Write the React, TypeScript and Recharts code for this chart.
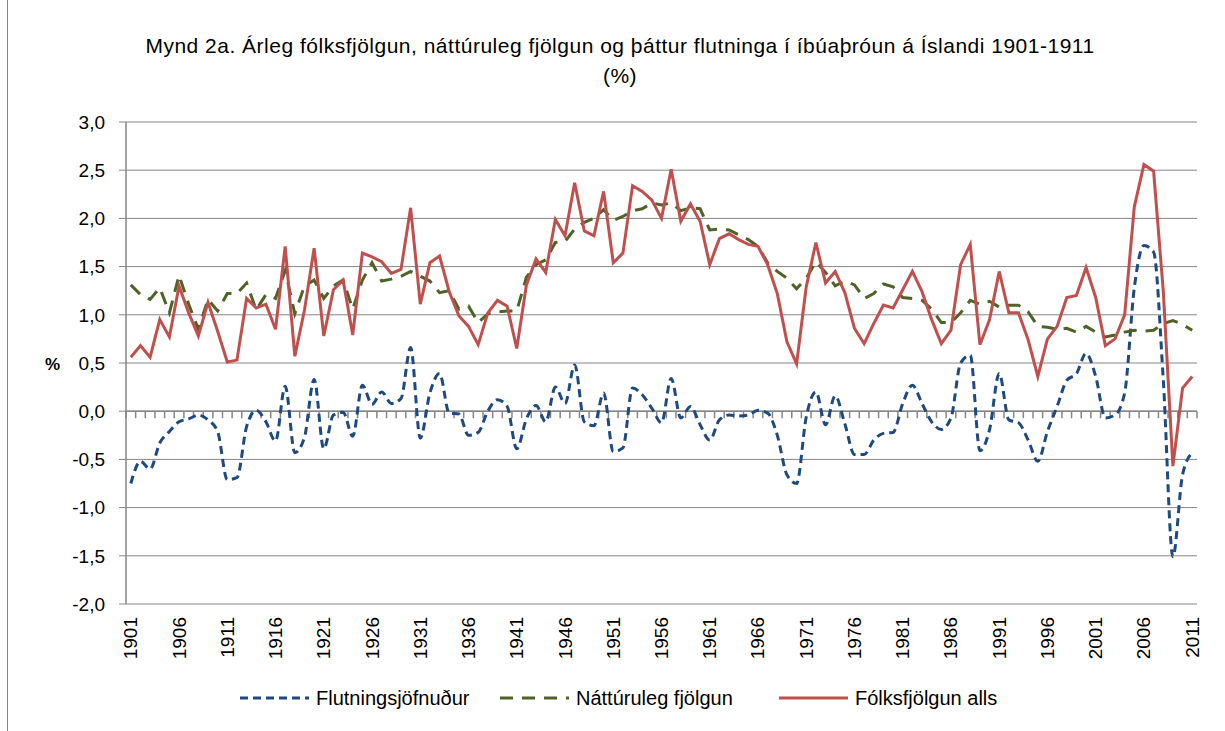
import { CartesianGrid, Line, LineChart, ReferenceLine, XAxis, YAxis } from "recharts";

// ár 1901-2011
const years = Array.from({ length: 111 }, (_, i) => 1901 + i);

const flutningsjofnudur = [
  -0.75, -0.52, -0.6, -0.33, -0.21, -0.11, -0.08, -0.04, -0.09, -0.21,
  -0.71, -0.69, -0.16, 0.01, -0.11, -0.31, 0.26, -0.43, -0.27, 0.33,
  -0.39, -0.04, -0.01, -0.26, 0.27, 0.07, 0.2, 0.08, 0.13, 0.66,
  -0.28, 0.19, 0.39, -0.02, -0.03, -0.25, -0.22, 0.0, 0.12, 0.05,
  -0.39, -0.08, 0.06, -0.11, 0.25, 0.08, 0.48, -0.11, -0.15, 0.19,
  -0.42, -0.38, 0.24, 0.17, 0.03, -0.12, 0.34, -0.07, 0.05, -0.14,
  -0.3, -0.09, -0.04, -0.05, -0.04, 0.01, -0.02, -0.25, -0.66, -0.75,
  -0.06, 0.2, -0.14, 0.16, -0.13, -0.45, -0.45, -0.3, -0.23, -0.22,
  0.08, 0.27, 0.08, -0.11, -0.19, -0.07, 0.5, 0.58, -0.41, -0.19,
  0.39, -0.09, -0.12, -0.3, -0.52, -0.21, 0.05, 0.32, 0.39, 0.6,
  0.36, -0.07, -0.04, 0.19, 1.28, 1.72, 1.65, 0.33, -1.51, -0.66,
  -0.43,
];

const natturulegFjolgun = [
  1.31, 1.21, 1.16, 1.28, 1.02, 1.41, 1.11, 0.85, 1.16, 1.04,
  1.22, 1.22, 1.33, 1.05, 1.21, 1.17, 1.46, 1.01, 1.3, 1.36,
  1.17, 1.3, 1.36, 1.06, 1.36, 1.54, 1.35, 1.37, 1.4, 1.45,
  1.4, 1.35, 1.23, 1.25, 1.06, 1.09, 0.92, 1.01, 1.03, 1.04,
  1.04, 1.39, 1.52, 1.57, 1.75, 1.76, 1.89, 1.96, 2.0, 2.09,
  1.98, 2.02, 2.08, 2.1, 2.16, 2.14, 2.16, 2.08, 2.11, 2.1,
  1.88, 1.89, 1.88, 1.83, 1.78, 1.71, 1.54, 1.45, 1.38, 1.27,
  1.38, 1.55, 1.44, 1.3, 1.35, 1.31, 1.17, 1.22, 1.32, 1.29,
  1.18, 1.17, 1.15, 1.06, 0.92, 0.92, 1.02, 1.15, 1.11, 1.14,
  1.08, 1.1, 1.1, 1.03, 0.88, 0.87, 0.85, 0.86, 0.82, 0.88,
  0.82, 0.77, 0.79, 0.82, 0.84, 0.83, 0.84, 0.91, 0.94, 0.9,
  0.84,
];

const folksfjolgunAlls = [
  0.56, 0.68, 0.56, 0.95, 0.77, 1.3, 1.02, 0.78, 1.13, 0.83,
  0.51, 0.53, 1.17, 1.07, 1.11, 0.85, 1.71, 0.57, 1.05, 1.69,
  0.78, 1.26, 1.36, 0.79, 1.64, 1.6, 1.55, 1.43, 1.47, 2.11,
  1.11, 1.54, 1.61, 1.24, 0.99, 0.88, 0.69, 1.02, 1.15, 1.09,
  0.65, 1.31, 1.58, 1.44, 1.99, 1.82, 2.37, 1.87, 1.82, 2.28,
  1.54, 1.64, 2.34, 2.28, 2.19, 2.0, 2.51, 1.97, 2.15, 1.97,
  1.52, 1.79, 1.84, 1.78, 1.73, 1.71, 1.52, 1.22, 0.72, 0.49,
  1.29, 1.75, 1.33, 1.45, 1.23, 0.86, 0.7, 0.91, 1.1, 1.07,
  1.26, 1.45, 1.24, 0.95, 0.7, 0.84, 1.52, 1.73, 0.69, 0.95,
  1.45, 1.02, 1.02, 0.74, 0.36, 0.75, 0.88, 1.18, 1.2, 1.49,
  1.18, 0.68, 0.75, 1.0, 2.12, 2.56, 2.49, 1.25, -0.57, 0.24,
  0.36,
];

const yTicks = [-2, -1.5, -1, -0.5, 0, 0.5, 1, 1.5, 2, 2.5, 3];

const data = years.map((year, i) => ({
  year,
  flutn: flutningsjofnudur[i],
  natt: natturulegFjolgun[i],
  folk: folksfjolgunAlls[i],
}));

const FONT = "'Liberation Sans', Arial, sans-serif";
const GRID = "#868686";
const BLUE = "#1F4A7E";
const GREEN = "#4F6228";
const RED = "#C0504D";
const BLUE_DASH = "8 5";
const GREEN_DASH = "13 9";

function YearTick({ x, y, payload }: any) {
  return (
    <text
      x={x}
      y={y}
      transform={`rotate(-90 ${x} ${y})`}
      textAnchor="end"
      dominantBaseline="central"
      fontSize={19}
      fontFamily={FONT}
      fill="#000"
    >
      {payload.value}
    </text>
  );
}

// lárétti ásinn við 0 með merkjum milli ára
function ZeroAxis(props: any) {
  const { x1, x2, y1 } = props;
  const n = years.length;
  const step = (x2 - x1) / n;
  const marks = [];
  for (let k = 0; k <= n; k++) {
    const x = x1 + k * step;
    marks.push(<line key={k} x1={x} x2={x} y1={y1} y2={y1 + 7} stroke={GRID} strokeWidth={1.5} />);
  }
  return (
    <g>
      <line x1={x1} x2={x2} y1={y1} y2={y1} stroke={GRID} strokeWidth={1.5} />
      {marks}
    </g>
  );
}

function LegendItem({ left, color, dash, label }: { left: number; color: string; dash?: string; label: string }) {
  return (
    <div style={{ position: "absolute", left, top: 687, height: 22, display: "flex", alignItems: "center", gap: 7 }}>
      <svg width={69} height={6}>
        <line x1={0} x2={69} y1={3} y2={3} stroke={color} strokeWidth={3} strokeDasharray={dash} />
      </svg>
      <span style={{ fontSize: 20, fontFamily: FONT, color: "#000" }}>{label}</span>
    </div>
  );
}

export default function App() {
  return (
    <div style={{ position: "absolute", left: 0, top: 0, width: 1225, height: 731, background: "#fff", fontFamily: FONT }}>
      <div style={{ position: "absolute", left: 7, top: 0, width: 1, height: 731, background: GRID }} />
      <div
        style={{
          position: "absolute",
          left: 0,
          top: 31,
          width: 1240,
          textAlign: "center",
          fontSize: 21,
          letterSpacing: 0.5,
          lineHeight: "30px",
          color: "#000",
        }}
      >
        Mynd 2a. Árleg fólksfjölgun, náttúruleg fjölgun og þáttur flutninga í íbúaþróun á Íslandi 1901-1911
        <br />
        (%)
      </div>
      <div style={{ position: "absolute", left: 45, top: 355, fontSize: 17, fontWeight: "bold" }}>%</div>

      <LineChart width={1225} height={731} data={data} margin={{ top: 122, right: 28, bottom: 67, left: 0 }}>
        <CartesianGrid vertical={false} stroke={GRID} strokeWidth={1} />
        <XAxis
          dataKey="year"
          interval={4}
          height={60}
          axisLine={false}
          tickLine={false}
          tickSize={0}
          tickMargin={13}
          tick={<YearTick />}
          padding={{ left: 4.8, right: 4.8 }}
        />
        <YAxis
          width={126}
          domain={[-2, 3]}
          ticks={yTicks}
          tickFormatter={(v: number) => v.toFixed(1).replace(".", ",")}
          axisLine={{ stroke: GRID, strokeWidth: 1.5 }}
          tickLine={{ stroke: GRID }}
          tickSize={7}
          tickMargin={14}
          tick={{ fontSize: 19, fill: "#000", fontFamily: FONT }}
        />
        <ReferenceLine y={0} shape={<ZeroAxis />} />
        <Line
          type="monotone"
          dataKey="flutn"
          stroke={BLUE}
          strokeWidth={3}
          strokeDasharray={BLUE_DASH}
          dot={false}
          isAnimationActive={false}
        />
        <Line
          type="linear"
          dataKey="natt"
          stroke={GREEN}
          strokeWidth={3}
          strokeDasharray={GREEN_DASH}
          dot={false}
          isAnimationActive={false}
        />
        <Line type="linear" dataKey="folk" stroke={RED} strokeWidth={3} dot={false} isAnimationActive={false} />
      </LineChart>

      <LegendItem left={240} color={BLUE} dash={BLUE_DASH} label="Flutningsjöfnuður" />
      <LegendItem left={500} color={GREEN} dash={GREEN_DASH} label="Náttúruleg fjölgun" />
      <LegendItem left={779} color={RED} label="Fólksfjölgun alls" />
    </div>
  );
}
